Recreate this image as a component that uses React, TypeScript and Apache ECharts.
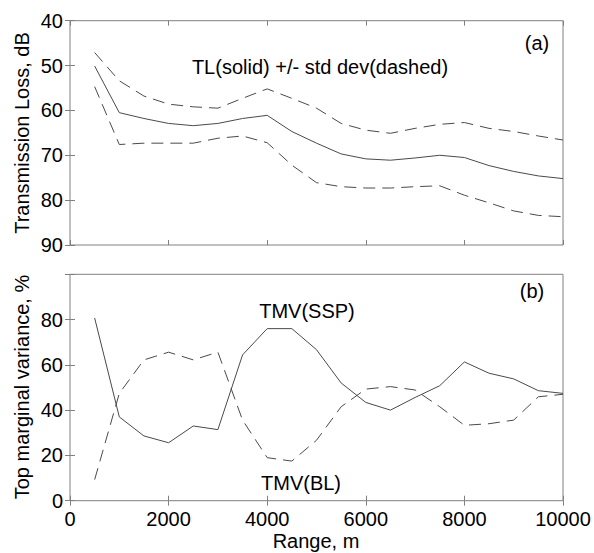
import React, { useEffect, useRef } from "react";
import * as echarts from "echarts";

const RANGE_M = [500, 1000, 1500, 2000, 2500, 3000, 3500, 4000, 4500, 5000, 5500, 6000, 6500, 7000, 7500, 8000, 8500, 9000, 9500, 10000];

const TL_MEAN = [50.1, 60.5, 61.8, 62.9, 63.4, 62.9, 61.8, 61.1, 64.7, 67.3, 69.7, 70.8, 71.1, 70.6, 70.0, 70.5, 72.3, 73.6, 74.6, 75.2];
const TL_UPPER = [47.1, 53.4, 56.8, 58.6, 59.2, 59.5, 57.3, 55.2, 57.3, 59.5, 62.9, 64.4, 65.1, 64.0, 63.1, 62.7, 64.0, 64.7, 65.7, 66.6];
const TL_LOWER = [54.7, 67.6, 67.3, 67.3, 67.3, 66.2, 65.7, 67.2, 72.2, 76.1, 77.0, 77.3, 77.3, 77.0, 76.8, 78.9, 80.6, 82.4, 83.4, 83.7];

const TMV_SSP = [80.7, 37.0, 28.6, 25.6, 33.0, 31.4, 64.4, 76.0, 76.0, 66.7, 52.0, 43.4, 40.0, 45.6, 50.8, 61.3, 56.3, 53.8, 48.6, 47.4];
const TMV_BL = [9.3, 47.4, 62.2, 65.6, 62.2, 65.6, 35.6, 19.0, 17.5, 26.7, 41.5, 49.3, 50.4, 48.9, 41.5, 33.3, 34.0, 35.6, 45.9, 47.0];

const FONT = "'Liberation Sans', Arial, sans-serif";
const LINE_COLOR = "#4a4a4a";
const BOX_COLOR = "#808080";

function pair(xs: number[], ys: number[]) {
  return xs.map((x, i) => [x, ys[i]]);
}

export default function App() {
  const ref = useRef<HTMLDivElement>(null);
  useEffect(() => {
    if (!ref.current) return;
    const chart = echarts.init(ref.current, null, { renderer: "svg" });
    const tickStyle = { show: true, inside: true, length: 5, lineStyle: { color: BOX_COLOR, width: 1 } };
    const labelStyle = { color: "#000", fontSize: 20, fontFamily: FONT };
    const xBase = (gridIndex: number, position: string, showLabel: boolean) => ({
      type: "value",
      gridIndex,
      position,
      min: 0,
      max: 10000,
      interval: 2000,
      axisLine: { show: false },
      axisTick: tickStyle,
      splitLine: { show: false },
      axisLabel: { show: showLabel, ...labelStyle, margin: 8, formatter: (v: number) => String(v) },
    });
    const yTop = (position: string, showLabel: boolean) => ({
      type: "value",
      gridIndex: 0,
      position,
      min: 40,
      max: 90,
      interval: 10,
      inverse: true,
      axisLine: { show: false },
      axisTick: tickStyle,
      splitLine: { show: false },
      axisLabel: { show: showLabel, ...labelStyle, margin: 7, formatter: (v: number) => String(v) },
    });
    const yBot = (position: string, showLabel: boolean) => ({
      type: "value",
      gridIndex: 1,
      position,
      min: 0,
      max: 100,
      interval: 20,
      axisLine: { show: false },
      axisTick: tickStyle,
      splitLine: { show: false },
      axisLabel: {
        show: showLabel,
        ...labelStyle,
        margin: 7,
        formatter: (v: number) => (v >= 100 ? "" : String(v)),
      },
    });
    const lineSeries = (xi: number, yi: number, data: number[][], dashed: boolean) => ({
      type: "line",
      xAxisIndex: xi,
      yAxisIndex: yi,
      data,
      symbol: "none",
      lineStyle: { color: LINE_COLOR, width: 1, type: dashed ? [12, 7] : "solid" },
      silent: true,
    });
    chart.setOption({
      animation: false,
      backgroundColor: "#fff",
      grid: [
        { left: 70, top: 20.7, width: 493, height: 224.3, show: true, borderColor: BOX_COLOR, borderWidth: 1, backgroundColor: "transparent" },
        { left: 70, top: 274.3, width: 493, height: 226.4, show: true, borderColor: BOX_COLOR, borderWidth: 1, backgroundColor: "transparent" },
      ],
      xAxis: [
        xBase(0, "bottom", false),
        xBase(0, "top", false),
        xBase(1, "bottom", true),
        xBase(1, "top", false),
      ],
      yAxis: [yTop("left", true), yTop("right", false), yBot("left", true), yBot("right", false)],
      series: [
        lineSeries(0, 0, pair(RANGE_M, TL_UPPER), true),
        lineSeries(0, 0, pair(RANGE_M, TL_MEAN), false),
        lineSeries(0, 0, pair(RANGE_M, TL_LOWER), true),
        lineSeries(2, 2, pair(RANGE_M, TMV_SSP), false),
        lineSeries(2, 2, pair(RANGE_M, TMV_BL), true),
      ],
      graphic: [
        { type: "text", x: 22, y: 133, rotation: Math.PI / 2, style: { text: "Transmission Loss, dB", font: `20px ${FONT}`, fill: "#000", textAlign: "center", textVerticalAlign: "middle" } },
        { type: "text", x: 22, y: 387, rotation: Math.PI / 2, style: { text: "Top marginal variance, %", font: `20px ${FONT}`, fill: "#000", textAlign: "center", textVerticalAlign: "middle" } },
        { type: "text", x: 316, y: 541, style: { text: "Range, m", font: `20px ${FONT}`, fill: "#000", textAlign: "center", textVerticalAlign: "middle" } },
        { type: "text", x: 320, y: 67, style: { text: "TL(solid) +/- std dev(dashed)", font: `20px ${FONT}`, fill: "#000", textAlign: "center", textVerticalAlign: "middle" } },
        { type: "text", x: 537, y: 43, style: { text: "(a)", font: `20px ${FONT}`, fill: "#000", textAlign: "center", textVerticalAlign: "middle" } },
        { type: "text", x: 532, y: 291, style: { text: "(b)", font: `20px ${FONT}`, fill: "#000", textAlign: "center", textVerticalAlign: "middle" } },
        { type: "text", x: 307, y: 311, style: { text: "TMV(SSP)", font: `20px ${FONT}`, fill: "#000", textAlign: "center", textVerticalAlign: "middle" } },
        { type: "text", x: 301, y: 483, style: { text: "TMV(BL)", font: `20px ${FONT}`, fill: "#000", textAlign: "center", textVerticalAlign: "middle" } },
      ],
    });
    return () => chart.dispose();
  }, []);
  return <div ref={ref} style={{ position: "absolute", left: 0, top: 0, width: 594, height: 553 }} />;
}
